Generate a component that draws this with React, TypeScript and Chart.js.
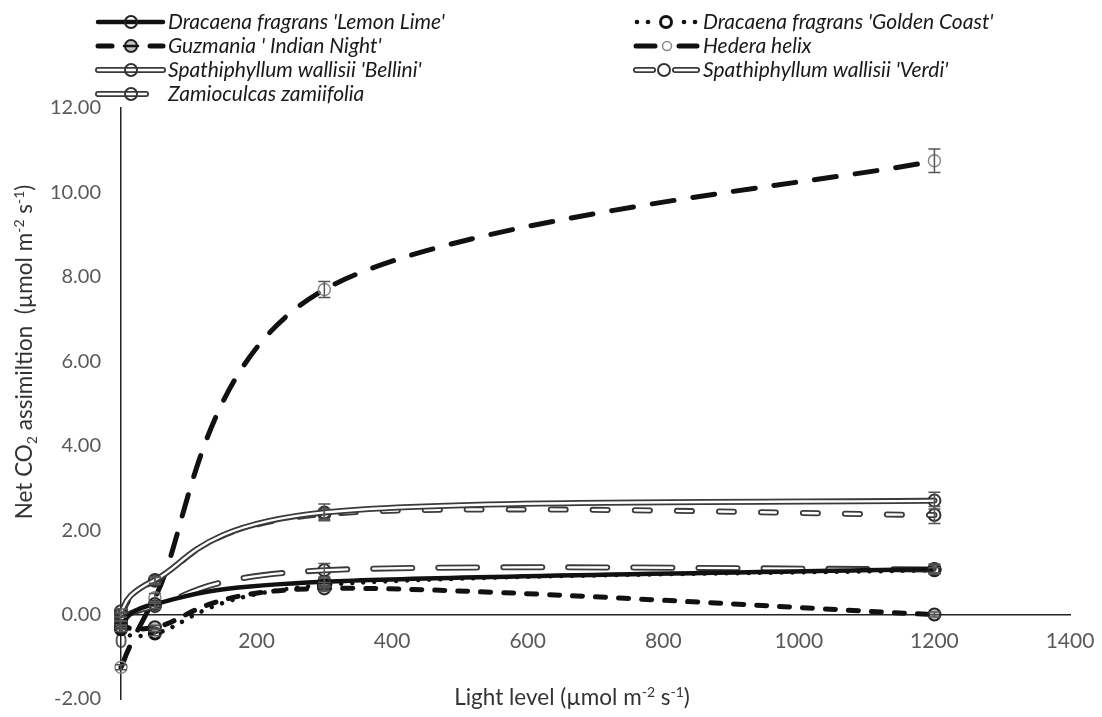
import React, { useEffect, useRef } from "react";
import { Chart, registerables } from "chart.js";

Chart.register(...registerables);

// ---------------- data ----------------
const lightLevels = [0, 50, 300, 1200];

const seriesNames = [
  "Dracaena fragrans 'Lemon Lime'",
  "Dracaena fragrans 'Golden Coast'",
  "Guzmania ' Indian Night'",
  "Hedera helix",
  "Spathiphyllum wallisii 'Bellini'",
  "Spathiphyllum wallisii 'Verdi'",
  "Zamioculcas zamiifolia",
];

const lemonLime = [-0.3, 0.25, 0.78, 1.08];
const lemonLimeErr = [0.05, 0.06, 0.08, 0.12];
const goldenCoast = [-0.35, -0.45, 0.7, 1.05];
const goldenCoastErr = [0.05, 0.05, 0.06, 0.06];
const guzmania = [-0.2, -0.3, 0.62, 0.0];
const guzmaniaErr = [0.05, 0.05, 0.06, 0.06];
const hedera = [-1.25, 0.4, 7.7, 10.75];
const hederaErr = [0.06, 0.1, 0.19, 0.28];
const bellini = [0.08, 0.82, 2.42, 2.7];
const belliniErr = [0.05, 0.08, 0.2, 0.2];
const verdi = [0.0, 0.8, 2.38, 2.36];
const verdiErr = [0.05, 0.08, 0.12, 0.2];
const zamioculcas = [-0.1, 0.2, 1.05, 1.07];
const zamioculcasErr = [0.05, 0.06, 0.16, 0.1];

const xTickValues = [0, 200, 400, 600, 800, 1000, 1200, 1400];
const yTickValues = [-2, 0, 2, 4, 6, 8, 10, 12];

const xTitle: [string, number][] = [["Light level (\u00b5mol m", 0], ["-2", 1], [" s", 0], ["-1", 1], [")", 0]];
const yTitle: [string, number][] = [["Net CO", 0], ["2", -1], [" assimiltion  (\u00b5mol m", 0], ["-2", 1], [" s", 0], ["-1", 1], [")", 0]];

// ---------------- styles ----------------
const INK = "#111111";
const OUTLINE = "#3a3a3a";
const FONT = "Lato, 'Open Sans', sans-serif";

const pts = (vals: number[]) => lightLevels.map((x, i) => ({ x, y: vals[i] }));

function base(label: string, vals: number[], errs: number[] | null, extra: any) {
  return {
    label,
    data: pts(vals),
    errors: errs,
    excel: true,
    clip: false,
    tension: 0.3,
    fill: false,
    borderCapStyle: "round",
    borderJoinStyle: "round",
    pointRadius: 0,
    pointHoverRadius: 0,
    pointBackgroundColor: "rgba(0,0,0,0)",
    ...extra,
  };
}

function hollow(label: string, vals: number[], errs: number[], dash: number[], marker: any) {
  return [
    base(label + "_inner", vals, null, {
      borderColor: "#ffffff",
      borderWidth: 2.4,
      borderDash: dash,
    }),
    base(label, vals, errs, {
      borderColor: OUTLINE,
      borderWidth: 6,
      borderDash: dash,
      ...marker,
    }),
  ];
}

const hollowMarker = { pointRadius: 6, pointBorderWidth: 2, pointBorderColor: "#333" };

function buildDatasets() {
  return [
    base(seriesNames[0], lemonLime, lemonLimeErr, {
      borderColor: INK,
      borderWidth: 4.5,
      pointRadius: 6,
      pointBorderWidth: 2,
      pointBorderColor: "#222",
    }),
    ...hollow(seriesNames[4], bellini, belliniErr, [], hollowMarker),
    ...hollow(seriesNames[5], verdi, verdiErr, [15, 27], hollowMarker),
    ...hollow(seriesNames[6], zamioculcas, zamioculcasErr, [39, 26], hollowMarker),
    base(seriesNames[2], guzmania, guzmaniaErr, {
      borderColor: INK,
      borderWidth: 5,
      borderDash: [10, 13],
      pointRadius: 6,
      pointBorderWidth: 2,
      pointBorderColor: "#222",
      pointBackgroundColor: "rgba(120,120,120,0.45)",
    }),
    base(seriesNames[1], goldenCoast, goldenCoastErr, {
      borderColor: INK,
      borderWidth: 4.5,
      borderDash: [0.01, 11],
      pointRadius: 5.5,
      pointBorderWidth: 3,
      pointBorderColor: INK,
    }),
    base(seriesNames[3], hedera, hederaErr, {
      borderColor: INK,
      borderWidth: 5,
      borderDash: [22, 19],
      pointRadius: 6,
      pointBorderWidth: 1.5,
      pointBorderColor: "#888",
    }),
  ];
}

// ---------------- plugins ----------------
// Excel-style smoothed line: control points = P +/- (next - prev) / 6
const excelSmooth = {
  id: "excelSmooth",
  beforeDatasetDraw(chart: any, args: any) {
    const ds = chart.data.datasets[args.index];
    const meta = args.meta;
    if (!ds || !ds.excel || !meta.dataset) return;
    meta.dataset.updateControlPoints(chart.chartArea, meta.indexAxis);
    const p = meta.data;
    for (let i = 0; i < p.length; i++) {
      const cur = p[i];
      const prev = p[i - 1] || cur;
      const next = p[i + 1] || cur;
      const dx = (next.x - prev.x) / 6;
      const dy = (next.y - prev.y) / 6;
      cur.cp1x = cur.x - dx;
      cur.cp1y = cur.y - dy;
      cur.cp2x = cur.x + dx;
      cur.cp2y = cur.y + dy;
    }
  },
};

const errorBars = {
  id: "errorBars",
  afterDatasetsDraw(chart: any) {
    const ctx = chart.ctx;
    const ys = chart.scales.y;
    ctx.save();
    ctx.strokeStyle = "#555";
    ctx.lineWidth = 1.5;
    chart.data.datasets.forEach((ds: any, di: number) => {
      if (!ds.errors) return;
      const meta = chart.getDatasetMeta(di);
      meta.data.forEach((pt: any, i: number) => {
        const v = ds.data[i].y;
        const e = ds.errors[i];
        const t = ys.getPixelForValue(v + e);
        const b = ys.getPixelForValue(v - e);
        ctx.beginPath();
        ctx.moveTo(pt.x, t);
        ctx.lineTo(pt.x, b);
        ctx.moveTo(pt.x - 6, t);
        ctx.lineTo(pt.x + 6, t);
        ctx.moveTo(pt.x - 6, b);
        ctx.lineTo(pt.x + 6, b);
        ctx.stroke();
      });
    });
    ctx.restore();
  },
};

function strokeSeg(ctx: any, x0: number, x1: number, y: number, w: number, color: string, dash: number[] = []) {
  ctx.save();
  ctx.beginPath();
  ctx.setLineDash(dash);
  ctx.lineCap = "round";
  ctx.strokeStyle = color;
  ctx.lineWidth = w;
  ctx.moveTo(x0, y);
  ctx.lineTo(x1, y);
  ctx.stroke();
  ctx.restore();
}
function hollowSeg(ctx: any, x0: number, x1: number, y: number) {
  strokeSeg(ctx, x0, x1, y, 6, OUTLINE);
  strokeSeg(ctx, x0, x1, y, 2.4, "#ffffff");
}
function circle(ctx: any, x: number, y: number, r: number, bw: number, color: string, fill?: string) {
  ctx.save();
  ctx.beginPath();
  ctx.arc(x, y, r, 0, Math.PI * 2);
  if (fill) {
    ctx.fillStyle = fill;
    ctx.fill();
  }
  ctx.lineWidth = bw;
  ctx.strokeStyle = color;
  ctx.stroke();
  ctx.restore();
}
function dot(ctx: any, x: number, y: number) {
  ctx.save();
  ctx.beginPath();
  ctx.arc(x, y, 2.3, 0, Math.PI * 2);
  ctx.fillStyle = INK;
  ctx.fill();
  ctx.restore();
}

const legendPlugin = {
  id: "customLegend",
  afterDraw(chart: any) {
    const ctx = chart.ctx;
    const L = 98, LT = 168, R = 636, RT = 703;
    const rows = [22, 46, 70, 94];
    // left column
    strokeSeg(ctx, L, 163, rows[0], 4.5, INK);
    circle(ctx, 131, rows[0], 6, 2, "#222");
    strokeSeg(ctx, L, 112, rows[1], 5, INK);
    strokeSeg(ctx, 150, 163, rows[1], 5, INK);
    circle(ctx, 131, rows[1], 6, 2, "#222", "rgba(120,120,120,0.45)");
    strokeSeg(ctx, 124, 138, rows[1], 2.5, INK);
    hollowSeg(ctx, L, 163, rows[2]);
    circle(ctx, 131, rows[2], 6, 2, "#333");
    hollowSeg(ctx, L, 146, rows[3]);
    circle(ctx, 131, rows[3], 6, 2, "#333");
    // right column
    dot(ctx, R + 1, rows[0]);
    dot(ctx, R + 12, rows[0]);
    circle(ctx, 666, rows[0], 5.5, 3, INK);
    dot(ctx, 684, rows[0]);
    dot(ctx, 695, rows[0]);
    strokeSeg(ctx, R, 655, rows[1], 5, INK);
    strokeSeg(ctx, 679, 697, rows[1], 5, INK);
    circle(ctx, 667, rows[1], 4.5, 1.5, "#888");
    hollowSeg(ctx, R, 653, rows[2]);
    hollowSeg(ctx, 675, 697, rows[2]);
    circle(ctx, 664, rows[2], 6, 2, "#333");

    ctx.save();
    ctx.fillStyle = "#1a1a1a";
    ctx.font = `italic 21px ${FONT}`;
    ctx.textBaseline = "middle";
    ctx.textAlign = "left";
    ctx.fillText(seriesNames[0], LT, rows[0]);
    ctx.fillText(seriesNames[2], LT, rows[1]);
    ctx.fillText(seriesNames[4], LT, rows[2]);
    ctx.fillText(seriesNames[6], LT, rows[3]);
    ctx.fillText(seriesNames[1], RT, rows[0]);
    ctx.fillText(seriesNames[3], RT, rows[1]);
    ctx.fillText(seriesNames[5], RT, rows[2]);
    ctx.restore();
  },
};

function drawRich(ctx: any, segs: [string, number][], cx: number, baseline: number, size: number) {
  const small = Math.round(size * 0.62);
  let w = 0;
  for (const [t, k] of segs) {
    ctx.font = `${k ? small : size}px ${FONT}`;
    w += ctx.measureText(t).width;
  }
  let x = cx - w / 2;
  ctx.textAlign = "left";
  ctx.textBaseline = "alphabetic";
  for (const [t, k] of segs) {
    ctx.font = `${k ? small : size}px ${FONT}`;
    const dy = k === 1 ? -size * 0.36 : k === -1 ? size * 0.2 : 0;
    ctx.fillText(t, x, baseline + dy);
    x += ctx.measureText(t).width;
  }
}

const axisTitles = {
  id: "axisTitles",
  afterDraw(chart: any) {
    const ctx = chart.ctx;
    ctx.save();
    ctx.fillStyle = "#333333";
    drawRich(ctx, xTitle, 572, 705, 22.5);
    ctx.translate(32, 352);
    ctx.rotate(-Math.PI / 2);
    drawRich(ctx, yTitle, 0, 0, 22.5);
    ctx.restore();
  },
};

// ---------------- component ----------------
export default function App() {
  const ref = useRef<HTMLCanvasElement | null>(null);

  useEffect(() => {
    document.body.style.margin = "0";
    const canvas = ref.current;
    if (!canvas) return;
    const chart = new Chart(canvas, {
      type: "line",
      data: { datasets: buildDatasets() as any },
      options: {
        responsive: false,
        animation: false,
        devicePixelRatio: 1,
        events: [],
        layout: { padding: { top: 108, right: 32, bottom: 18, left: 0 } },
        plugins: {
          legend: { display: false },
          tooltip: { enabled: false },
        },
        scales: {
          x: {
            type: "linear",
            position: { y: 0 } as any,
            min: 0,
            max: 1400,
            afterBuildTicks: (s: any) => {
              s.ticks = xTickValues.map((v) => ({ value: v }));
            },
            afterFit: (s: any) => {
              s.height = 0;
              s.paddingLeft = 0;
              s.paddingRight = 0;
              s.paddingTop = 0;
              s.paddingBottom = 0;
            },
            grid: { display: false, drawTicks: false },
            border: { display: true, color: "#222", width: 1.5 },
            ticks: {
              padding: 14,
              color: "#595959",
              font: { family: FONT, size: 21 },
              maxRotation: 0,
              autoSkip: false,
              callback: (v: any) => String(v),
            },
          },
          y: {
            type: "linear",
            position: "left",
            min: -2,
            max: 12,
            afterBuildTicks: (s: any) => {
              s.ticks = yTickValues.map((v) => ({ value: v }));
            },
            afterFit: (s: any) => {
              s.width = 121;
              s.paddingTop = 0;
              s.paddingBottom = 0;
              s.paddingLeft = 0;
              s.paddingRight = 0;
            },
            grid: { display: false, drawTicks: false },
            border: { display: true, color: "#222", width: 1.5 },
            ticks: {
              padding: 20,
              color: "#595959",
              font: { family: FONT, size: 20 },
              autoSkip: false,
              callback: (v: any) => Number(v).toFixed(2),
            },
          },
        },
      },
      plugins: [excelSmooth, errorBars, legendPlugin, axisTitles],
    });
    return () => chart.destroy();
  }, []);

  return <canvas ref={ref} width={1102} height={717} style={{ display: "block" }} />;
}
